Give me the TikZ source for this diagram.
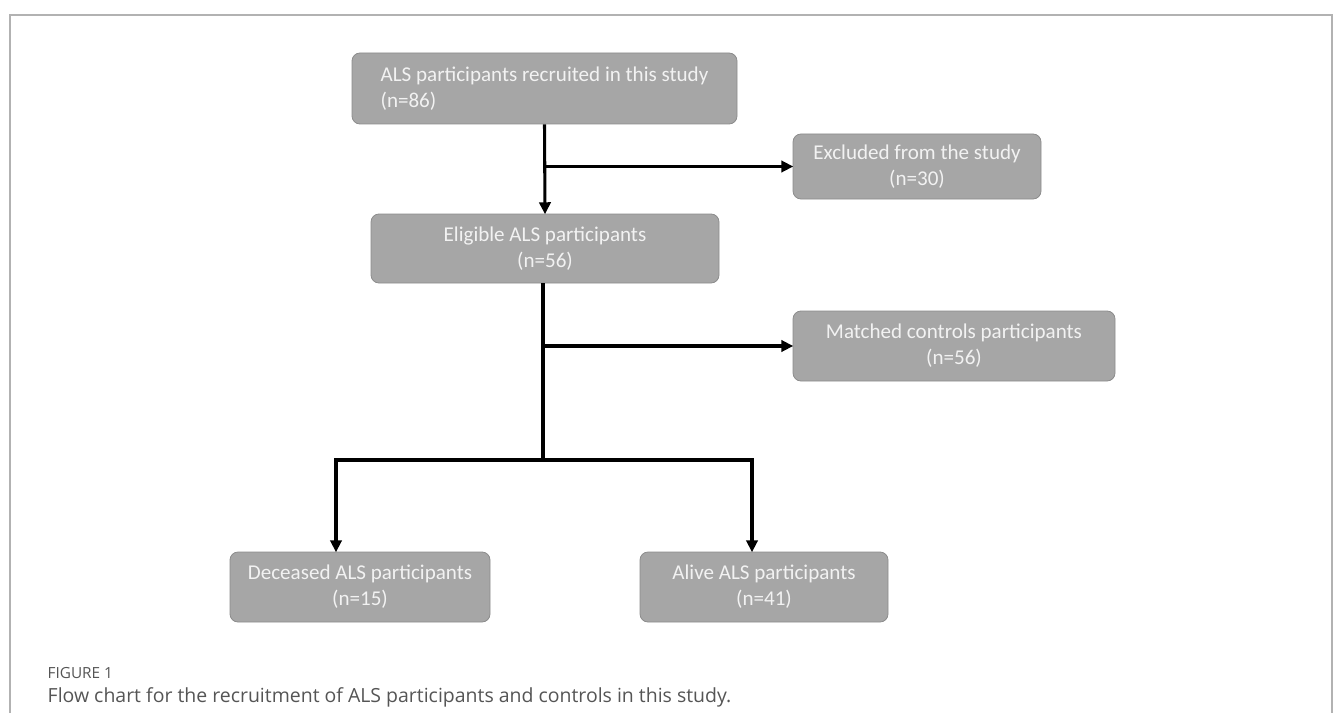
\documentclass[tikz,border=0pt]{standalone}
\usepackage{fontspec}
\setmainfont{Carlito}
\newfontfamily\capfont{Open Sans}
\usepackage{tikz}
\usetikzlibrary{arrows.meta}

\definecolor{boxfill}{RGB}{166,166,166}
\definecolor{boxline}{RGB}{140,140,140}
\definecolor{boxtext}{RGB}{242,242,242}
\definecolor{framecol}{RGB}{178,178,178}
\definecolor{capcol}{RGB}{85,85,85}

\tikzset{
  flowbox/.style={draw=boxline, line width=0.6pt, fill=boxfill, rounded corners=6pt,
    text=boxtext, font=\fontsize{15.8}{19.5}\selectfont, inner sep=0pt},
  link/.style={line width=2.3pt, black},
  linkarrow/.style={link, -{Triangle[length=9pt,width=8.5pt]}, shorten >=-0.5pt}
}

\begin{document}
\begin{tikzpicture}[x=0.75pt,y=0.75pt,yscale=-1,xscale=1]
\useasboundingbox (0,0) rectangle (1333,713);

%Frame
\draw [framecol, line width=1.5pt] (10,713) -- (10,15) -- (1332,15) -- (1332,713);

%Boxes
\node [flowbox, minimum width=288.75pt, minimum height=53.25pt, align=left] (recruit) at (544.5,88.5) {ALS participants recruited in this study\\(n=86)};
\node [flowbox, minimum width=186pt, minimum height=48.75pt, align=center] (excluded) at (917,166.5) {Excluded from the study\\(n=30)};
\node [flowbox, minimum width=261pt, minimum height=51.75pt, align=center] (eligible) at (545,248.5) {Eligible ALS participants\\(n=56)};
\node [flowbox, minimum width=241.5pt, minimum height=52.5pt, align=center] (matched) at (954,346) {Matched controls participants\\(n=56)};
\node [flowbox, minimum width=195pt, minimum height=52.5pt, align=center] (deceased) at (360,587) {Deceased ALS participants\\(n=15)};
\node [flowbox, minimum width=186pt, minimum height=52.5pt, align=center] (alive) at (764,587) {Alive ALS participants\\(n=41)};

%Split points
\coordinate (split) at (543,460);
\coordinate (splitL) at (336,460);
\coordinate (splitR) at (752,460);

%Connectors
\draw [linkarrow] (recruit.south) -- (eligible.north);
\draw [linkarrow] (recruit.south |- excluded.west) -- (excluded.west);
\draw [link] (eligible.south -| split) -- (split);
\draw [linkarrow] (split |- matched.west) -- (matched.west);
\draw [link] (splitL) -- (splitR);
\draw [linkarrow] ([yshift=-1.15pt]splitL) -- (splitL |- deceased.north);
\draw [linkarrow] ([yshift=-1.15pt]splitR) -- (splitR |- alive.north);

%Caption
\node [anchor=base west, text=capcol, font=\capfont\fontsize{11.5}{13}\selectfont] (figlabel) at (43,678) {FIGURE 1};
\node [anchor=base west, text=capcol, font=\capfont\fontsize{14.6}{17}\selectfont] (figcaption) at (43,702) {Flow chart for the recruitment of ALS participants and controls in this study.};

\end{tikzpicture}
\end{document}
